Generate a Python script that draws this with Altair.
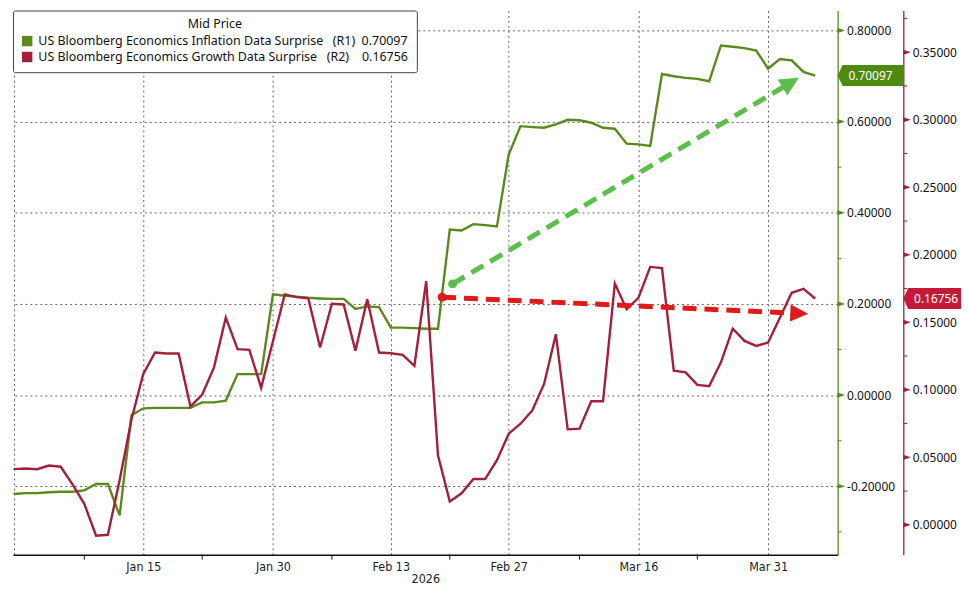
import math
import altair as alt
import pandas as pd

# ---------------- data ----------------
# business days shown on the chart (Bloomberg omits weekends)
dates = [d.strftime("%Y-%m-%d") for d in pd.bdate_range("2025-12-31", "2026-04-06")]

inflation = [
    -0.217, -0.215, -0.215, -0.213, -0.212, -0.212, -0.209, -0.195, -0.195, -0.264,
    -0.044, -0.029, -0.028, -0.028, -0.028, -0.028, -0.016, -0.016, -0.012, 0.046,
    0.046, 0.046, 0.221, 0.218, 0.216, 0.2135, 0.212, 0.211, 0.211, 0.189,
    0.1945, 0.193, 0.148, 0.148, 0.147, 0.1457, 0.1457, 0.363, 0.361, 0.375,
    0.373, 0.370, 0.528, 0.590, 0.588, 0.5865, 0.594, 0.604, 0.603, 0.5975,
    0.5865, 0.5843, 0.5515, 0.550, 0.5464, 0.7045, 0.6995, 0.6958, 0.6936, 0.6885,
    0.767, 0.7643, 0.7613, 0.756, 0.7162, 0.7373, 0.7344, 0.709, 0.70097,
]
growth = [
    0.0412, 0.0417, 0.0412, 0.0439, 0.0430, 0.030, 0.0155, -0.0081, -0.0074, 0.0331,
    0.078, 0.1117, 0.1276, 0.1269, 0.1269, 0.0876, 0.0965, 0.1166, 0.1534, 0.1301,
    0.1296, 0.1014, 0.136, 0.1706, 0.1686, 0.1677, 0.1313, 0.1637, 0.1632, 0.1289,
    0.1670, 0.1276, 0.1271, 0.1259, 0.1178, 0.1804, 0.0515, 0.0172, 0.0233, 0.0339,
    0.0339, 0.0479, 0.0675, 0.0749, 0.0847, 0.1043, 0.1412, 0.0707, 0.0712, 0.0915,
    0.0915, 0.1787, 0.1596, 0.1681, 0.191, 0.1902, 0.1141, 0.1129, 0.1036, 0.1026,
    0.1203, 0.1453, 0.1362, 0.1325, 0.135, 0.1534, 0.1718, 0.1748, 0.16756,
]

label_dates = ["2026-01-15", "2026-01-30", "2026-02-13", "2026-02-27", "2026-03-16", "2026-03-31"]
label_text = ["Jan 15", "Jan 30", "Feb 13", "Feb 27", "Mar 16", "Mar 31"]
grid_start_date = "2025-12-31"
minor_x_dates = ["2026-01-08", "2026-01-22", "2026-02-06", "2026-02-20", "2026-03-09", "2026-03-23"]
year_label = "2026"

r1_ticks = [-0.2, 0.0, 0.2, 0.4, 0.6, 0.8]
r1_minor = [-0.3, -0.1, 0.1, 0.3, 0.5, 0.7]
r2_ticks = [0.0, 0.05, 0.10, 0.15, 0.20, 0.25, 0.30, 0.35]
r2_minor = [0.025, 0.075, 0.125, 0.175, 0.225, 0.275, 0.325, 0.375]

# trend arrows: x in business-day index, y in each series' units
infl_arrow = [37.24, 0.244, 66.6, 0.696]
growth_arrow = [36.35, 0.1686, 67.4, 0.1563]

name1 = "US Bloomberg Economics Inflation Data Surprise"
name2 = "US Bloomberg Economics Growth Data Surprise"
legend_title = "Mid Price"

# ---------------- layout / style ----------------
W, H = 829, 547
R2_OFFSET = 66
X_DOMAIN = [-0.05, 69.9]
R1_DOMAIN = [-0.35, 0.8437]
R2_DOMAIN = [-0.0221, 0.3809]

GREEN = "#5b8a1c"
RED = "#a3203c"
GREEN_AXIS = "#5b8a1c"
RED_AXIS = "#a3203c"
GREEN_TAG = "#4f8a10"
RED_TAG = "#c41a3a"
GREEN_ARROW = "#5cbf4c"
RED_ARROW = "#e01a1a"
GRID = "#666666"
FONT = "Noto Sans"
XFONT = "Liberation Sans Narrow, DejaVu Sans Condensed, Roboto Condensed, Arial Narrow, sans-serif"
NB = "\u00a0"

leg1 = f"{name1}{NB*3}(R1){NB*2}{inflation[-1]:.5f}"
leg2 = f"{name2}{NB*3}(R2){NB*4}{growth[-1]:.5f}"

idx = {d: i for i, d in enumerate(dates)}
df1 = pd.DataFrame({"i": range(len(dates)), "v": inflation})
df2 = pd.DataFrame({"i": range(len(dates)), "v": growth})

xscale = alt.Scale(domain=X_DOMAIN, nice=False, zero=False)
y1scale = alt.Scale(domain=R1_DOMAIN, nice=False, zero=False)
y2scale = alt.Scale(domain=R2_DOMAIN, nice=False, zero=False)

parts = [f"datum.value == {idx[d]} ? '{t}'" for d, t in zip(label_dates, label_text)]
x_label_expr = " : ".join(parts) + " : ''"
x_values = [idx[grid_start_date]] + [idx[d] for d in label_dates]

x_axis = alt.Axis(
    values=x_values, labelExpr=x_label_expr, title=year_label, orient="bottom",
    grid=True, gridColor=GRID, gridDash=[2, 3], gridWidth=1,
    ticks=False, domainColor="#111111", domainWidth=1.5,
    labelFont=XFONT, labelFontSize=12.5, labelColor="#222222", labelPadding=6,
    titleFont=XFONT, titleFontSize=12.5, titleFontWeight="normal", titleColor="#222222",
    titlePadding=0,
)
num_expr = "replace(format(datum.value, '.5f'), '\u2212', '-')"
y1_axis = alt.Axis(
    orient="right", values=r1_ticks, labelExpr=num_expr, title=None,
    grid=True, gridColor=GRID, gridDash=[2, 3], gridWidth=1,
    ticks=False, domainColor=GREEN_AXIS, domainWidth=1.3,
    labelFont=FONT, labelFontSize=12, labelColor="#111111", labelPadding=9,
)
y2_axis = alt.Axis(
    orient="right", offset=R2_OFFSET, values=r2_ticks, labelExpr=num_expr, title=None,
    grid=False, ticks=False, domainColor=RED_AXIS, domainWidth=1.3,
    labelFont=FONT, labelFontSize=12, labelColor="#111111", labelPadding=9,
)

px_x = W / (X_DOMAIN[1] - X_DOMAIN[0])


def arrow_geom(a, py, head_len):
    x0, y0, x1, y1 = a
    dx = (x1 - x0) * px_x
    dy = -(y1 - y0) * py
    L = math.hypot(dx, dy)
    f = (L - head_len + 3) / L
    ang = math.degrees(math.atan2(dy, dx)) % 360
    return pd.DataFrame({"x0": [x0], "y0": [y0], "xe": [x0 + f * (x1 - x0)],
                         "ye": [y0 + f * (y1 - y0)], "x1": [x1], "y1": [y1]}), ang


TICK_TRI = "M0,-2.6 L7.5,0 L0,2.6 Z"


def tag_path(w):
    return f"M0,0 L5,-10.5 L{w},-10.5 L{w},10.5 L5,10.5 Z"


def X(field):
    # every layer on the shared x scale carries the same axis definition
    return alt.X(field, scale=xscale, axis=x_axis)


def series_group(df, yscale, yaxis, color, axis_color, tag_color, tag_w, arrow, arrow_color,
                 py, head_len, head_half, ticks, minor, xpos, extra=None):
    def Y(field):
        return alt.Y(field, scale=yscale, axis=yaxis)

    base = alt.Chart(df)
    line = base.mark_line(strokeWidth=2.4, color=color).encode(x=X("i:Q"), y=Y("v:Q"))
    adf, ang = arrow_geom(arrow, py, head_len)
    abase = alt.Chart(adf)
    shaft = abase.mark_rule(strokeWidth=5, strokeDash=[14, 8], color=arrow_color).encode(
        x=X("x0:Q"), x2="xe:Q", y=Y("y0:Q"), y2="ye:Q")
    dot = abase.mark_circle(size=80, opacity=1, color=arrow_color).encode(
        x=X("x0:Q"), y=Y("y0:Q"))
    head_path = f"M0,0 L-{head_len},-{head_half} L-{head_len},{head_half} Z"
    head = abase.mark_point(shape=head_path, size=4, filled=True, opacity=1,
                            strokeWidth=0, color=arrow_color, angle=ang).encode(
        x=X("x1:Q"), y=Y("y1:Q"))
    tdf = pd.DataFrame({"v": ticks})
    tri = alt.Chart(tdf).mark_point(shape=TICK_TRI, size=4, filled=True, opacity=1,
                                    strokeWidth=0, color=axis_color).encode(
        x=alt.value(xpos), y=Y("v:Q"))
    mdf = pd.DataFrame({"v": minor})
    mticks = alt.Chart(mdf).mark_rule(strokeWidth=1, color=axis_color).encode(
        x=alt.value(xpos), x2=alt.value(xpos + 4), y=Y("v:Q"))
    last = df.tail(1)
    tag = alt.Chart(last).mark_point(shape=tag_path(tag_w), size=4, filled=True, opacity=1,
                                     strokeWidth=0, color=tag_color).encode(
        x=alt.value(xpos), y=Y("v:Q"))
    tag_text = alt.Chart(last).mark_text(color="white", font=FONT, fontSize=12,
                                         align="center", baseline="middle").encode(
        x=alt.value(xpos + 33), y=Y("v:Q"), text=alt.Text("v:Q", format=".5f"))
    layers = [line, shaft, dot, head, tri, mticks, tag, tag_text]
    if extra is not None:
        layers.append(extra)
    return alt.layer(*layers)


mxdf = pd.DataFrame({"i": [idx[d] for d in minor_x_dates]})
x_minor = alt.Chart(mxdf).mark_rule(strokeWidth=1, color="#111111").encode(
    x=X("i:Q"), y=alt.value(H), y2=alt.value(H + 5))

py1 = H / (R1_DOMAIN[1] - R1_DOMAIN[0])
py2 = H / (R2_DOMAIN[1] - R2_DOMAIN[0])

green = series_group(df1, y1scale, y1_axis, GREEN, GREEN_AXIS, GREEN_TAG, 66, infl_arrow,
                     GREEN_ARROW, py1, 19, 9.5, r1_ticks, r1_minor, W, extra=x_minor)
red = series_group(df2, y2scale, y2_axis, RED, RED_AXIS, RED_TAG, 58, growth_arrow,
                   RED_ARROW, py2, 18, 8.5, r2_ticks, r2_minor, W + R2_OFFSET)

ldf = pd.DataFrame({"series": [leg1, leg2]})
legend_layer = alt.Chart(ldf).mark_square(opacity=1, filled=True, size=110).encode(
    color=alt.Color(
        "series:N",
        scale=alt.Scale(domain=[leg1, leg2], range=[GREEN, RED]),
        legend=alt.Legend(
            title=legend_title, orient="top-left", offset=0,
            fillColor="white", strokeColor="#444444", padding=8, cornerRadius=2,
            symbolType="square", symbolSize=110, symbolStrokeWidth=0,
            labelFont=FONT, labelFontSize=12.5, labelColor="#111111", labelLimit=700,
            labelOffset=5, rowPadding=3,
            titleFont=FONT, titleFontSize=12.5, titleFontWeight="normal",
            titleColor="#111111", titleAnchor="middle", titlePadding=4,
        ),
    )
).transform_filter("false")

chart = (
    alt.layer(green, red, legend_layer)
    .resolve_scale(y="independent")
    .properties(width=W, height=H,
                padding={"left": 0, "top": 0, "right": 0, "bottom": 0},
                background="white")
    .configure_view(stroke=None)
)

chart.save("out.html", embed_options={"renderer": "svg", "actions": False})
